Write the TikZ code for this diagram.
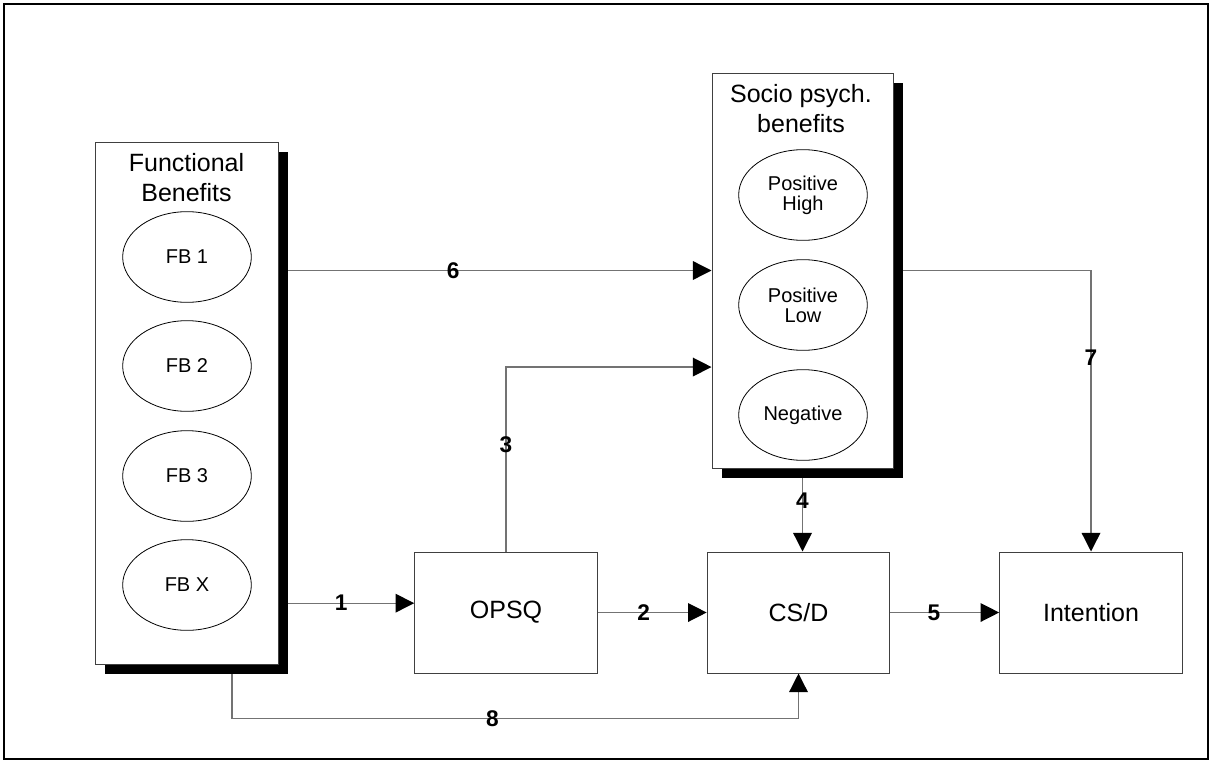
\documentclass[tikz,border=0pt]{standalone}
\usepackage{fontspec}
\setmainfont{Liberation Sans}
\usetikzlibrary{shapes.geometric,arrows.meta,shadows}

\begin{document}
\begin{tikzpicture}[x=0.75pt, y=-0.75pt,
    colbox/.style={rectangle, draw=black!75, line width=0.75pt, fill=white,
      drop shadow={shadow xshift=7.25pt, shadow yshift=-7.25pt, fill=black, opacity=1}},
    stepbox/.style={rectangle, draw=black!75, line width=0.75pt, fill=white,
      minimum width=137pt, minimum height=90.75pt, font=\fontsize{18.75}{22.5}\selectfont},
    oval/.style={ellipse, draw, line width=0.6pt, inner sep=0pt, align=center,
      minimum width=96.5pt, minimum height=68pt, font=\fontsize{15}{15}\selectfont},
    title/.style={align=center, inner sep=0pt, font=\fontsize{18.75}{22.5}\selectfont},
    conn/.style={draw=black!55, line width=1pt, -{Triangle[length=14pt, width=14pt, color=black]}},
    num/.style={inner sep=0pt, font=\fontsize{17}{17}\selectfont\bfseries}]
  \useasboundingbox (0,0) rectangle (1209,760);
  % outer frame
  \draw[line width=1.5pt] (3.5,3.5) rectangle (1207.5,758.5);

  % functional benefits column
  \node[colbox, minimum width=137.25pt, minimum height=391.5pt] (fb) at (186.5,403) {};
  \node[title] (fbtitle) at (186.5,178) {Functional\\Benefits};
  \node[oval] (fb1) at (187,257) {FB 1};
  \node[oval] (fb2) at (187,366) {FB 2};
  \node[oval] (fb3) at (187,476) {FB 3};
  \node[oval] (fbx) at (187,585) {FB X};

  % socio psychological benefits column
  \node[colbox, minimum width=135.75pt, minimum height=296.25pt] (socio) at (802.5,270.5) {};
  \node[title] (sptitle) at (801,108.5) {Socio psych.\\benefits};
  \node[oval] (poshigh) at (803,195) {Positive\\High};
  \node[oval] (poslow) at (803,305) {Positive\\Low};
  \node[oval] (neg) at (803,415) {Negative};

  % lower row
  \node[stepbox] (opsq) at (506,612.5) {OPSQ};
  \node[stepbox] (csd) at (798.5,612.5) {CS/D};
  \node[stepbox] (intent) at (1091,612.5) {Intention};

  % help points
  \coordinate (in1) at ([yshift=7pt]opsq.west);
  \coordinate (in3) at ([yshift=-72.4pt]socio.west);
  \coordinate (in8) at ([yshift=-33.75pt]csd.south);

  % paths 1 to 8
  \draw[conn] ([xshift=7.25pt]fb.east |- in1) -- node[num, pos=0.42] (n1) {1} (in1);
  \draw[conn] (opsq) -- node[num, pos=0.42] (n2) {2} (csd);
  \draw[conn] (opsq.north) |- node[num, pos=0.29] (n3) {3} (in3);
  \draw[conn] ([yshift=-7.25pt]socio.south) -- node[num, pos=0.31] (n4) {4} (socio.south |- csd.north);
  \draw[conn] (csd) -- node[num, pos=0.4] (n5) {5} (intent);
  \draw[conn] ([xshift=7.25pt]fb.east |- socio.west) -- node[num, pos=0.39] (n6) {6} (socio.west);
  \draw[conn] ([xshift=7.25pt]socio.east) -| node[num, pos=0.656] (n7) {7} (intent.north);
  \draw[conn] ([xshift=34pt, yshift=-7.25pt]fb.south) |- node[num, pos=0.73] (n8) {8} (in8) -- (csd.south);
\end{tikzpicture}
\end{document}
